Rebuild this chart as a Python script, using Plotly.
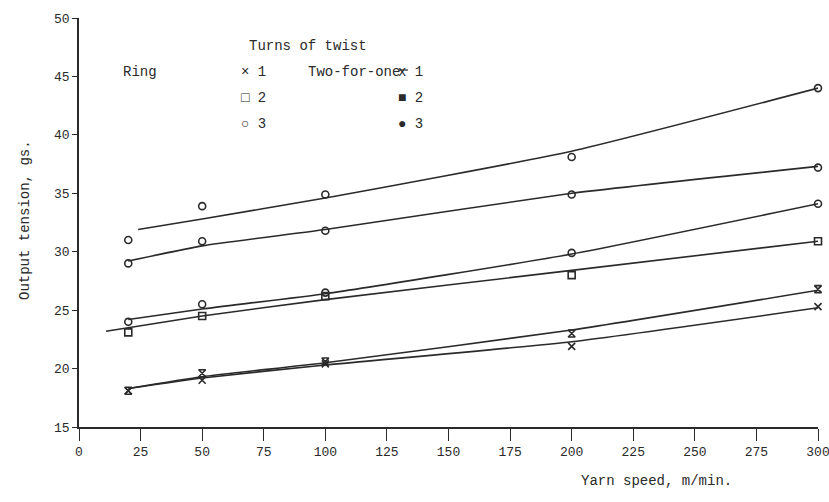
import plotly.graph_objects as go

# ---- data ----
speed = [20, 50, 100, 200, 300]

ring_1 = [18.1, 19.0, 20.4, 21.9, 25.3]
ring_2 = [23.1, 24.5, 26.2, 28.0, 30.9]
ring_3 = [29.0, 30.9, 31.8, 34.9, 37.2]
tfo_1 = [18.1, 19.6, 20.6, 23.0, 26.8]
tfo_2 = [24.0, 25.5, 26.5, 29.9, 34.1]
tfo_3 = [31.0, 33.9, 34.9, 38.1, 44.0]

# drawn (fitted) lines
fit_x_std = [20, 50, 100, 200, 300]
fit_x_top = [24, 50, 100, 200, 300]
fit_x_sq = [11, 50, 100, 200, 300]
fit_ring_1 = [18.3, 19.2, 20.3, 22.3, 25.2]
fit_tfo_1 = [18.3, 19.3, 20.5, 23.3, 26.7]
fit_ring_2 = [23.2, 24.5, 25.9, 28.4, 30.9]
fit_tfo_2 = [24.2, 25.1, 26.4, 29.8, 34.1]
fit_ring_3 = [29.2, 30.5, 31.9, 35.0, 37.3]
fit_tfo_3 = [31.9, 32.8, 34.6, 38.6, 44.0]

x_ticks = list(range(0, 301, 25))
y_ticks = list(range(15, 51, 5))

INK = "#2a2a2a"
FONT = "Liberation Mono"

W, H = 829, 502
L, R, T, B = 79, 11, 18, 75
pw, ph = W - L - R, H - T - B


def px(x):
    return (x - L) / pw


def py(y):
    return 1 - (y - T) / ph


fig = go.Figure()

fits = [
    (fit_x_top, fit_tfo_3),
    (fit_x_std, fit_ring_3),
    (fit_x_std, fit_tfo_2),
    (fit_x_sq, fit_ring_2),
    (fit_x_std, fit_tfo_1),
    (fit_x_std, fit_ring_1),
]
for fx, fy in fits:
    fig.add_trace(go.Scatter(x=fx, y=fy, mode="lines",
                             line=dict(color=INK, width=1.6, shape="spline", smoothing=0.5),
                             showlegend=False, hoverinfo="skip", cliponaxis=False))

series = [
    (ring_1, "x-thin-open", 7),
    (tfo_1, "hourglass-open", 7),
    (ring_2, "square-open", 7),
    (tfo_2, "circle-open", 7),
    (ring_3, "circle-open", 7),
    (tfo_3, "circle-open", 7),
]
for vals, sym, sz in series:
    fig.add_trace(go.Scatter(x=speed, y=vals, mode="markers", cliponaxis=False,
                             marker=dict(symbol=sym, size=sz, color=INK,
                                         line=dict(color=INK, width=1.6)),
                             showlegend=False))

fig.update_layout(
    width=W, height=H,
    margin=dict(l=L, r=R, t=T, b=B, autoexpand=False),
    paper_bgcolor="white", plot_bgcolor="white",
    font=dict(family=FONT, color=INK, size=12),
    xaxis=dict(range=[0, 300], tickvals=x_ticks, ticktext=[str(v) for v in x_ticks],
               automargin=False, ticklabeloverflow="allow",
               showgrid=False, zeroline=False, showline=True, linecolor=INK, linewidth=1.6,
               ticks="outside", ticklen=12, tickwidth=1.2, tickcolor=INK,
               tickfont=dict(family=FONT, size=13, color=INK)),
    yaxis=dict(range=[15, 50], tickvals=y_ticks, ticktext=[str(v) for v in y_ticks],
               automargin=False, ticklabeloverflow="allow",
               showgrid=False, zeroline=False, showline=True, linecolor=INK, linewidth=1.6,
               ticks="outside", ticklen=5, tickwidth=1.2, tickcolor=INK,
               tickfont=dict(family=FONT, size=13, color=INK)),
)

notes = [
    ("Turns of twist", 247, 36),
    ("Ring", 121, 62),
    ("\u00d7 1", 239, 62),
    ("Two-for-one", 306, 62),
    ("x 1", 410, 62),
    ("\u25a1 2", 239, 88),
    ("\u25a0 2", 410, 88),
    ("\u25cb 3", 239, 114),
    ("\u25cf 3", 410, 114),
]
for txt, x, y in notes:
    fig.add_annotation(text=txt, x=px(x), y=py(y), xref="paper", yref="paper",
                       showarrow=False, font=dict(family=FONT, size=14, color=INK))

# underline of the two-for-one "x" legend glyph
fig.add_shape(type="line", xref="paper", yref="paper",
              x0=px(399), x1=px(408), y0=py(70), y1=py(70),
              line=dict(color=INK, width=1.2))

fig.add_annotation(text="Output tension, gs.", x=px(15), y=py(220), xref="paper", yref="paper",
                   textangle=-90, showarrow=False, font=dict(family=FONT, size=14, color=INK))
fig.add_annotation(text="Yarn speed, m/min.", x=px(734), y=py(491), xref="paper", yref="paper",
                   showarrow=False, font=dict(family=FONT, size=14, color=INK))

fig.write_html("out.html", config={"displayModeBar": False},
               post_script="document.body.style.margin='0';document.body.style.overflow='hidden';")
